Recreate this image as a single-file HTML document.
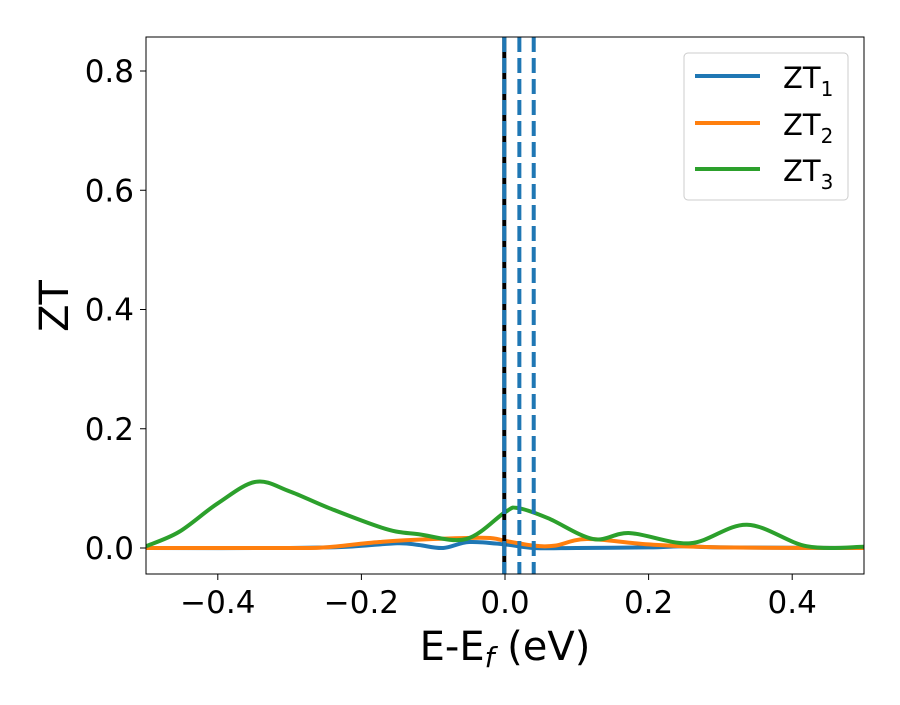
<!DOCTYPE html>
<html><head><meta charset="utf-8"><style>
body{margin:0;background:#fff}
svg text{font-family:"DejaVu Sans","Liberation Sans",sans-serif;fill:#000}
</style></head><body>
<svg id="chart" width="900" height="700" xmlns="http://www.w3.org/2000/svg">
<rect width="900" height="700" fill="#fff"/>
<defs><clipPath id="plotclip"><rect x="146" y="37" width="718" height="537"/></clipPath></defs>
<g id="series" clip-path="url(#plotclip)"></g>
<g id="vlines" clip-path="url(#plotclip)"></g>
<rect x="146" y="37" width="718" height="537" fill="none" stroke="#000" stroke-width="1"/>
<g id="ticks"></g>
<text x="505" y="660" font-size="40" text-anchor="middle">E-E<tspan font-style="italic" font-size="28" dy="7">f</tspan><tspan dy="-7"> (eV)</tspan></text>
<text transform="translate(68,306) rotate(-90)" font-size="40" text-anchor="middle">ZT</text>
<g>
<rect x="684" y="53" width="164" height="147" rx="4" fill="#fff" stroke="#ccc" stroke-width="1"/>
<line x1="695" y1="76" x2="760" y2="76" stroke="#1f77b4" stroke-width="4"/>
<text x="783" y="88" font-size="29">ZT<tspan font-size="20" dy="8">1</tspan></text>
<line x1="695" y1="123" x2="760" y2="123" stroke="#ff7f0e" stroke-width="4"/>
<text x="783" y="135" font-size="29">ZT<tspan font-size="20" dy="8">2</tspan></text>
<line x1="695" y1="169" x2="760" y2="169" stroke="#2ca02c" stroke-width="4"/>
<text x="783" y="181" font-size="29">ZT<tspan font-size="20" dy="8">3</tspan></text>
</g>
</svg>
<script>
const xTicks=[-0.4,-0.2,0.0,0.2,0.4];
const xTickLabels=["\u22120.4","\u22120.2","0.0","0.2","0.4"];
const yTicks=[0.0,0.2,0.4,0.6,0.8];
const yTickLabels=["0.0","0.2","0.4","0.6","0.8"];
const zt1X=[-0.5,-0.3,-0.22,-0.15,-0.12,-0.086,-0.05,0.0,0.04,0.1,0.2,0.25,0.3,0.5];
const zt1Y=[0.0,0.0,0.002,0.008,0.005,0.0,0.01,0.006,0.0,0.0,0.001,0.003,0.001,0.0];
const zt2X=[-0.5,-0.3,-0.25,-0.175,-0.1,-0.026,0.0,0.04,0.07,0.114,0.2,0.3,0.5];
const zt2Y=[0.0,0.0,0.001,0.01,0.015,0.017,0.012,0.004,0.004,0.015,0.006,0.001,0.0];
const zt3X=[-0.5,-0.454,-0.4,-0.347,-0.3,-0.245,-0.166,-0.12,-0.054,0.0,0.018,0.06,0.123,0.174,0.258,0.337,0.42,0.5];
const zt3Y=[0.003,0.027,0.075,0.111,0.095,0.067,0.032,0.023,0.015,0.06,0.067,0.05,0.015,0.025,0.008,0.039,0.003,0.002];
const vLinesDashed=[-0.001,0.02,0.04];
const vLineSolid=-0.001;
const NS="http://www.w3.org/2000/svg";
const X=v=>505+v*718, Y=v=>548-v*596.25;
function path(xs,ys){
 const p=xs.map((x,i)=>[X(x),Y(ys[i])]);
 let d="M"+p[0][0]+","+p[0][1];
 for(let i=0;i<p.length-1;i++){
  const p0=p[Math.max(0,i-1)],p1=p[i],p2=p[i+1],p3=p[Math.min(p.length-1,i+2)];
  const c1=[p1[0]+(p2[0]-p0[0])/6,p1[1]+(p2[1]-p0[1])/6];
  const c2=[p2[0]-(p3[0]-p1[0])/6,p2[1]-(p3[1]-p1[1])/6];
  d+=" C"+c1+" "+c2+" "+p2;
 }
 return d;
}
const g=document.getElementById("series");
[[zt1X,zt1Y,"#1f77b4","zt1-line"],[zt2X,zt2Y,"#ff7f0e","zt2-line"],[zt3X,zt3Y,"#2ca02c","zt3-line"]].forEach(s=>{
 const e=document.createElementNS(NS,"path");
 e.setAttribute("d",path(s[0],s[1]));e.setAttribute("fill","none");e.setAttribute("stroke",s[2]);e.setAttribute("stroke-width","4");
 
 
 g.appendChild(e);
});
const vg=document.getElementById("vlines");
const sl=document.createElementNS(NS,"line");
sl.setAttribute("x1",X(vLineSolid));sl.setAttribute("x2",X(vLineSolid));sl.setAttribute("y1",37);sl.setAttribute("y2",574);sl.setAttribute("stroke","#000");sl.setAttribute("stroke-width","4");


vg.appendChild(sl);
vLinesDashed.forEach(v=>{
 const l=document.createElementNS(NS,"line");
 l.setAttribute("x1",X(v));l.setAttribute("x2",X(v));l.setAttribute("y1",37);l.setAttribute("y2",574);l.setAttribute("stroke","#1f77b4");l.setAttribute("stroke-width","4");l.setAttribute("stroke-dasharray","15 6");
 
 
 vg.appendChild(l);
});
const tg=document.getElementById("ticks");
xTicks.forEach((v,i)=>{
 const l=document.createElementNS(NS,"line");
 l.setAttribute("x1",X(v));l.setAttribute("x2",X(v));l.setAttribute("y1",574);l.setAttribute("y2",580);l.setAttribute("stroke","#000");
 
 
 tg.appendChild(l);
 const t=document.createElementNS(NS,"text");
 t.setAttribute("x",X(v));t.setAttribute("y",613);t.setAttribute("font-size","31");t.setAttribute("text-anchor","middle");t.textContent=xTickLabels[i];
 
 
 tg.appendChild(t);
});
yTicks.forEach((v,i)=>{
 const l=document.createElementNS(NS,"line");
 l.setAttribute("x1",140);l.setAttribute("x2",146);l.setAttribute("y1",Y(v));l.setAttribute("y2",Y(v));l.setAttribute("stroke","#000");
 
 
 tg.appendChild(l);
 const t=document.createElementNS(NS,"text");
 t.setAttribute("x",134);t.setAttribute("y",Y(v)+11);t.setAttribute("font-size","31");t.setAttribute("text-anchor","end");t.textContent=yTickLabels[i];
 
 
 tg.appendChild(t);
});
</script>
</body></html>
